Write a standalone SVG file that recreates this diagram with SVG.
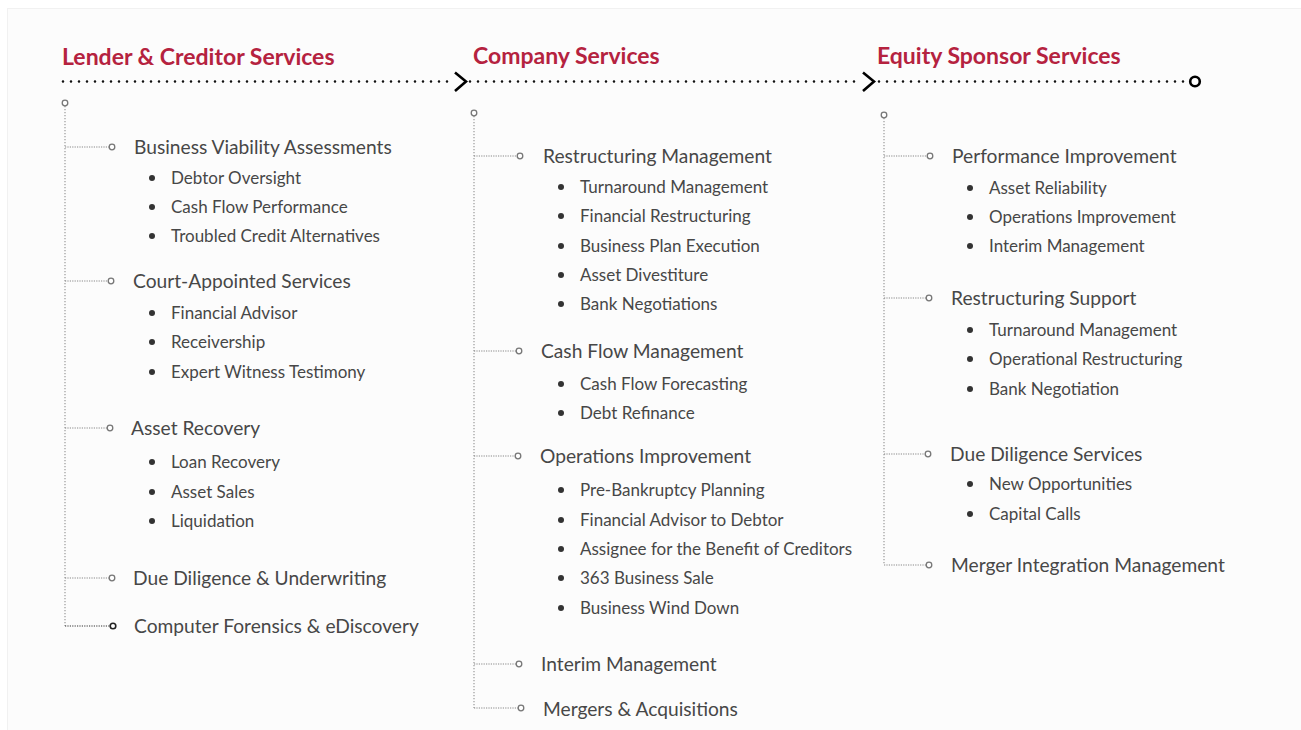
<svg xmlns="http://www.w3.org/2000/svg" width="1301" height="730" viewBox="0 0 1301 730">
<style>
.hdr{font-family:Lato,"Liberation Sans",sans-serif;font-weight:bold;font-size:23px;fill:#b5223f}
.item{font-family:Lato,"Liberation Sans",sans-serif;font-size:19.2px;fill:#474747}
.sub{font-family:Lato,"Liberation Sans",sans-serif;font-size:17px;fill:#474747}
.dots{fill:none;stroke:#111;stroke-width:2.6;stroke-linecap:round;stroke-dasharray:0 8}
.chev{fill:none;stroke:#000;stroke-width:2.6}
.vline{fill:none;stroke:#999;stroke-width:1.2;stroke-dasharray:1.2 1.8}
.br{fill:none;stroke:#888;stroke-width:1.2;stroke-dasharray:1.2 1.2}
.brd{fill:none;stroke:#333;stroke-width:1.2;stroke-dasharray:1.2 1.2}
.cir{fill:#fff;stroke:#777;stroke-width:1.3}
.cird{fill:#fff;stroke:#222;stroke-width:1.6}
.bul{fill:#333}
</style>
<rect x="0" y="0" width="1301" height="730" fill="#ffffff"/>
<rect x="7.5" y="8.5" width="1300" height="730" fill="#fcfcfc" stroke="#f1f1f1" stroke-width="1"/>

<g id="timeline">
<line class="dots" x1="63" y1="81.5" x2="455" y2="81.5"/>
<polyline class="chev" points="455,72.5 466,81.5 455,91"/>
<line class="dots" x1="470" y1="81.5" x2="862" y2="81.5"/>
<polyline class="chev" points="863,72.5 874,81.5 863,91"/>
<line class="dots" x1="879" y1="81.5" x2="1188" y2="81.5"/>
<circle cx="1195" cy="81.5" r="4.8" fill="#fff" stroke="#000" stroke-width="2.6"/>
</g>

<g id="connectors">
<line class="vline" x1="65" y1="106" x2="65" y2="626"/>
<line class="br" x1="65" y1="147" x2="109" y2="147"/>
<line class="br" x1="65" y1="281" x2="108" y2="281"/>
<line class="br" x1="65" y1="428" x2="107" y2="428"/>
<line class="br" x1="65" y1="578" x2="109" y2="578"/>
<line class="brd" x1="65" y1="626" x2="110" y2="626"/>

<line class="vline" x1="474" y1="116" x2="474" y2="708"/>
<line class="br" x1="474" y1="156" x2="517" y2="156"/>
<line class="br" x1="474" y1="351" x2="516" y2="351"/>
<line class="br" x1="474" y1="456" x2="515" y2="456"/>
<line class="br" x1="474" y1="664" x2="516" y2="664"/>
<line class="br" x1="474" y1="708" x2="518" y2="708"/>

<line class="vline" x1="884" y1="118" x2="884" y2="565"/>
<line class="br" x1="884" y1="156" x2="927" y2="156"/>
<line class="br" x1="884" y1="298" x2="926" y2="298"/>
<line class="br" x1="884" y1="454" x2="925" y2="454"/>
<line class="br" x1="884" y1="565" x2="926" y2="565"/>
</g>

<g id="col1">
<text class="hdr" x="62" y="65">Lender &amp; Creditor Services</text>
<circle class="cir" cx="65" cy="103" r="2.8"/>
<g id="c1-n1">
<circle class="cir" cx="112" cy="147" r="2.8"/>
<text class="item" x="134" y="154">Business Viability Assessments</text>
<circle class="bul" cx="152" cy="178" r="3"/><text class="sub" x="171" y="184">Debtor Oversight</text>
<circle class="bul" cx="152" cy="207" r="3"/><text class="sub" x="171" y="213">Cash Flow Performance</text>
<circle class="bul" cx="152" cy="236" r="3"/><text class="sub" x="171" y="242">Troubled Credit Alternatives</text>
</g>
<g id="c1-n2">
<circle class="cir" cx="111" cy="281" r="2.8"/>
<text class="item" x="133" y="288">Court-Appointed Services</text>
<circle class="bul" cx="152" cy="313" r="3"/><text class="sub" x="171" y="319">Financial Advisor</text>
<circle class="bul" cx="152" cy="342" r="3"/><text class="sub" x="171" y="348">Receivership</text>
<circle class="bul" cx="152" cy="372" r="3"/><text class="sub" x="171" y="378">Expert Witness Testimony</text>
</g>
<g id="c1-n3">
<circle class="cir" cx="110" cy="428" r="2.8"/>
<text class="item" x="131" y="435">Asset Recovery</text>
<circle class="bul" cx="152" cy="462" r="3"/><text class="sub" x="171" y="468">Loan Recovery</text>
<circle class="bul" cx="152" cy="492" r="3"/><text class="sub" x="171" y="498">Asset Sales</text>
<circle class="bul" cx="152" cy="521" r="3"/><text class="sub" x="171" y="527">Liquidation</text>
</g>
<g id="c1-n4">
<circle class="cir" cx="112" cy="578" r="2.8"/>
<text class="item" x="133" y="585">Due Diligence &amp; Underwriting</text>
</g>
<g id="c1-n5">
<circle class="cird" cx="113" cy="626" r="2.8"/>
<text class="item" x="134" y="633">Computer Forensics &amp; eDiscovery</text>
</g>
</g>

<g id="col2">
<text class="hdr" x="473" y="64">Company Services</text>
<circle class="cir" cx="474" cy="113" r="2.8"/>
<g id="c2-n1">
<circle class="cir" cx="520" cy="156" r="2.8"/>
<text class="item" x="543" y="163">Restructuring Management</text>
<circle class="bul" cx="561" cy="187" r="3"/><text class="sub" x="580" y="193">Turnaround Management</text>
<circle class="bul" cx="561" cy="216" r="3"/><text class="sub" x="580" y="222">Financial Restructuring</text>
<circle class="bul" cx="561" cy="246" r="3"/><text class="sub" x="580" y="252">Business Plan Execution</text>
<circle class="bul" cx="561" cy="275" r="3"/><text class="sub" x="580" y="281">Asset Divestiture</text>
<circle class="bul" cx="561" cy="304" r="3"/><text class="sub" x="580" y="310">Bank Negotiations</text>
</g>
<g id="c2-n2">
<circle class="cir" cx="519" cy="351" r="2.8"/>
<text class="item" x="541" y="358">Cash Flow Management</text>
<circle class="bul" cx="561" cy="384" r="3"/><text class="sub" x="580" y="390">Cash Flow Forecasting</text>
<circle class="bul" cx="561" cy="413" r="3"/><text class="sub" x="580" y="419">Debt Refinance</text>
</g>
<g id="c2-n3">
<circle class="cir" cx="518" cy="456" r="2.8"/>
<text class="item" x="540" y="463">Operations Improvement</text>
<circle class="bul" cx="561" cy="490" r="3"/><text class="sub" x="580" y="496">Pre-Bankruptcy Planning</text>
<circle class="bul" cx="561" cy="520" r="3"/><text class="sub" x="580" y="526">Financial Advisor to Debtor</text>
<circle class="bul" cx="561" cy="549" r="3"/><text class="sub" x="580" y="555">Assignee for the Benefit of Creditors</text>
<circle class="bul" cx="561" cy="578" r="3"/><text class="sub" x="580" y="584">363 Business Sale</text>
<circle class="bul" cx="561" cy="608" r="3"/><text class="sub" x="580" y="614">Business Wind Down</text>
</g>
<g id="c2-n4">
<circle class="cir" cx="519" cy="664" r="2.8"/>
<text class="item" x="541" y="671">Interim Management</text>
</g>
<g id="c2-n5">
<circle class="cir" cx="521" cy="708" r="2.8"/>
<text class="item" x="543" y="716">Mergers &amp; Acquisitions</text>
</g>
</g>

<g id="col3">
<text class="hdr" x="877" y="64">Equity Sponsor Services</text>
<circle class="cir" cx="884" cy="115" r="2.8"/>
<g id="c3-n1">
<circle class="cir" cx="930" cy="156" r="2.8"/>
<text class="item" x="952" y="163">Performance Improvement</text>
<circle class="bul" cx="970" cy="188" r="3"/><text class="sub" x="989" y="194">Asset Reliability</text>
<circle class="bul" cx="970" cy="217" r="3"/><text class="sub" x="989" y="223">Operations Improvement</text>
<circle class="bul" cx="970" cy="246" r="3"/><text class="sub" x="989" y="252">Interim Management</text>
</g>
<g id="c3-n2">
<circle class="cir" cx="929" cy="298" r="2.8"/>
<text class="item" x="951" y="305">Restructuring Support</text>
<circle class="bul" cx="970" cy="330" r="3"/><text class="sub" x="989" y="336">Turnaround Management</text>
<circle class="bul" cx="970" cy="359" r="3"/><text class="sub" x="989" y="365">Operational Restructuring</text>
<circle class="bul" cx="970" cy="389" r="3"/><text class="sub" x="989" y="395">Bank Negotiation</text>
</g>
<g id="c3-n3">
<circle class="cir" cx="928" cy="454" r="2.8"/>
<text class="item" x="950" y="461">Due Diligence Services</text>
<circle class="bul" cx="970" cy="484" r="3"/><text class="sub" x="989" y="490">New Opportunities</text>
<circle class="bul" cx="970" cy="514" r="3"/><text class="sub" x="989" y="520">Capital Calls</text>
</g>
<g id="c3-n4">
<circle class="cir" cx="929" cy="565" r="2.8"/>
<text class="item" x="951" y="572">Merger Integration Management</text>
</g>
</g>
</svg>
